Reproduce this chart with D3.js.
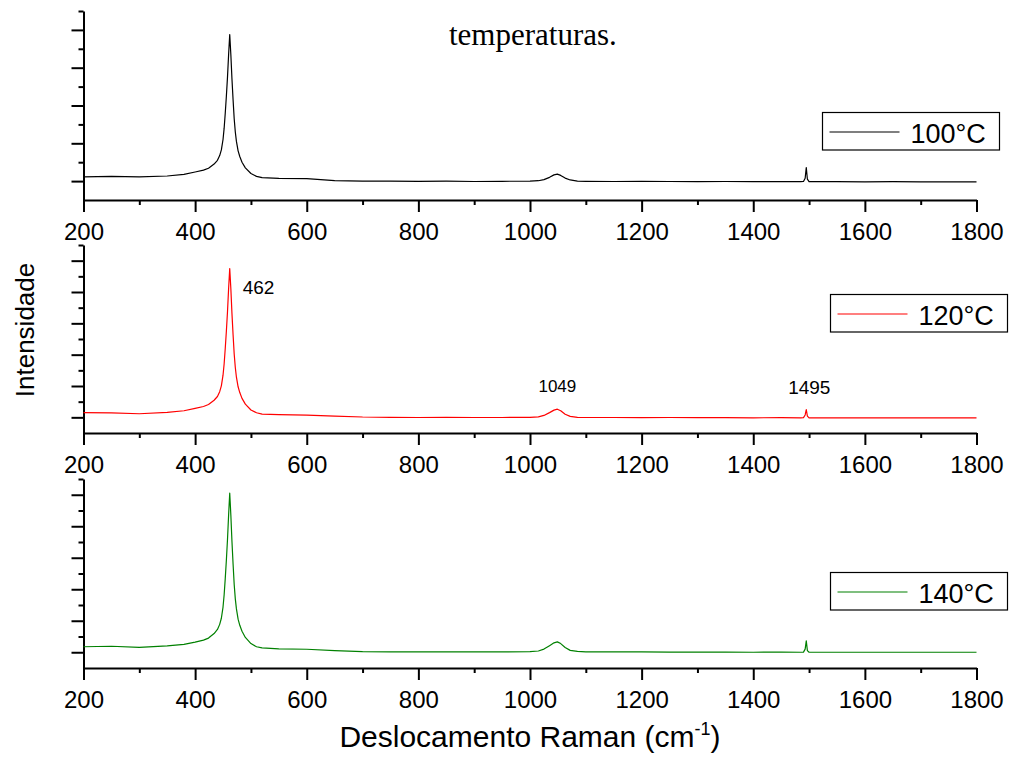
<!DOCTYPE html>
<html>
<head>
<meta charset="utf-8">
<script src="https://cdn.jsdelivr.net/npm/d3@7"></script>
<style>
  body { margin: 0; background: #fff; }
  svg { display: block; }
  text { font-family: "Liberation Sans", Arial, sans-serif; fill: #000; }
</style>
</head>
<body>
<svg id="chart" width="1011" height="765"></svg>
<script>
// Raman shift (cm-1) sampled along the spectra
const ramanShift = [200, 250, 300, 350, 380, 400,
  415, 424, 434, 440, 444, 447, 450, 452, 454, 456, 458, 460,
  462,
  464, 466, 468, 470, 472, 474, 477, 480, 484, 490, 500,
  510, 520, 550, 600, 650, 700, 750, 800, 850, 900, 950, 1000,
  1015, 1025, 1035, 1043, 1049, 1055, 1063, 1072, 1085, 1100,
  1150, 1200, 1250, 1300, 1350, 1400, 1450,
  1485, 1490, 1493, 1495, 1497, 1500, 1505,
  1550, 1600, 1650, 1700, 1750, 1800];

// intensities (arbitrary units)
const intensity100 = [1.22, 1.25, 1.22, 1.27, 1.36, 1.48,
  1.58, 1.68, 1.9, 2.1, 2.35, 2.65, 3.2, 3.8, 4.6, 5.5, 6.5, 7.7,
  8.75,
  7.7, 6.4, 5.3, 4.3, 3.6, 3.1, 2.6, 2.3, 2.0, 1.7, 1.4,
  1.25, 1.18, 1.14, 1.13, 1.02, 1.0, 1.0, 0.99, 1.0, 0.98, 0.99, 1.0,
  1.02, 1.08, 1.2, 1.33, 1.37, 1.3, 1.16, 1.06, 1.0, 0.99,
  0.98, 0.99, 0.98, 0.97, 0.98, 0.97, 0.97,
  0.97, 0.98, 1.15, 1.72, 1.1, 0.97, 0.97,
  0.97, 0.96, 0.97, 0.96, 0.96, 0.96];
const intensity120 = [1.3, 1.28, 1.23, 1.32, 1.42, 1.57,
  1.69, 1.82, 2.09, 2.33, 2.64, 3.01, 3.69, 4.42, 5.41, 6.51, 7.74, 9.22,
  10.5,
  9.22, 7.62, 6.27, 5.04, 4.18, 3.56, 2.95, 2.58, 2.21, 1.84, 1.47,
  1.29, 1.2, 1.17, 1.14, 1.08, 1.02, 1.0, 0.99, 1.0, 0.99, 0.99, 1.0,
  1.03, 1.12, 1.3, 1.46, 1.52, 1.42, 1.2, 1.06, 1.0, 0.99,
  0.99, 0.98, 0.99, 0.98, 0.98, 0.97, 0.98,
  0.97, 0.98, 1.15, 1.5, 1.08, 0.97, 0.97,
  0.97, 0.97, 0.96, 0.96, 0.96, 0.96];
const intensity140 = [1.35, 1.38, 1.31, 1.4, 1.5, 1.64,
  1.77, 1.9, 2.19, 2.45, 2.77, 3.16, 3.87, 4.65, 5.69, 6.86, 8.16, 9.72,
  11.1,
  9.72, 8.03, 6.6, 5.3, 4.39, 3.75, 3.1, 2.71, 2.33, 1.94, 1.55,
  1.35, 1.28, 1.22, 1.19, 1.1, 1.04, 1.03, 1.02, 1.03, 1.02, 1.02, 1.04,
  1.08, 1.2, 1.42, 1.6, 1.66, 1.55, 1.3, 1.12, 1.05, 1.03,
  1.02, 1.02, 1.01, 1.01, 1.01, 1.0, 1.01,
  1.0, 1.01, 1.2, 1.72, 1.1, 1.0, 1.0,
  1.0, 1.0, 1.0, 1.0, 1.0, 1.0];

const temperatures = ['100°C', '120°C', '140°C'];
const lineColors = ['#000000', '#ff0000', '#008000'];
const xTickValues = [200, 400, 600, 800, 1000, 1200, 1400, 1600, 1800];
const xMinorValues = [300, 500, 700, 900, 1100, 1300, 1500, 1700];
const peakLabels = [462, 1049, 1495];

const svg = d3.select('#chart');

const x = d3.scaleLinear().domain([200, 1800]).range([83.5, 976.5]);

const panels = [
  { data: intensity100, yMax: 10, top: 11, bottom: 200, legend: [822.5, 112.5] },
  { data: intensity120, yMax: 12, top: 245, bottom: 433, legend: [830.5, 294.5] },
  { data: intensity140, yMax: 12, top: 479, bottom: 668, legend: [830.5, 572.5] }
];

panels.forEach((p, i) => {
  const y = d3.scaleLinear().domain([0, p.yMax]).range([p.bottom, p.top]);
  p.y = y;
  const g = svg.append('g');

  // y axis: long ticks on odd, short on even
  const yMajor = d3.range(1, p.yMax + 1, 2);
  const yMinor = d3.range(2, p.yMax + 1, 2);
  g.append('g')
    .attr('transform', `translate(${x.range()[0]},0)`)
    .call(d3.axisLeft(y).tickValues(yMinor).tickSize(5).tickSizeOuter(0).tickFormat(''));
  g.append('g')
    .attr('transform', `translate(${x.range()[0]},0)`)
    .call(d3.axisLeft(y).tickValues(yMajor).tickSize(12).tickSizeOuter(0).tickFormat(''))
    .select('.domain').remove();

  // x axis
  g.append('g')
    .attr('transform', `translate(0,${p.bottom})`)
    .call(d3.axisBottom(x).tickValues(xMinorValues).tickSize(5).tickSizeOuter(0).tickFormat(''));
  g.append('g')
    .attr('transform', `translate(0,${p.bottom})`)
    .call(d3.axisBottom(x).tickValues(xTickValues).tickSize(12).tickSizeOuter(0).tickFormat(d3.format('d')))
    .call(a => a.select('.domain').remove())
    .selectAll('text')
      .attr('dy', null)
      .attr('y', 40)
      .style('font-size', '24px')
      .style('font-family', '"Liberation Sans", Arial, sans-serif');

  g.selectAll('.domain, .tick line')
    .attr('stroke', '#000')
    .attr('stroke-width', 2);

  const line = d3.line()
    .x((d, k) => x(ramanShift[k]))
    .y(d => y(d));
  g.append('path')
    .datum(p.data)
    .attr('fill', 'none')
    .attr('stroke', lineColors[i])
    .attr('stroke-width', 1.2)
    .attr('stroke-linejoin', 'round')
    .attr('d', line);

  // legend box
  const [lx, ly] = p.legend;
  const lg = svg.append('g').attr('transform', `translate(${lx},${ly})`);
  lg.append('rect')
    .attr('width', 177).attr('height', 37.5)
    .attr('fill', '#fff').attr('stroke', '#000').attr('stroke-width', 1.2);
  lg.append('line')
    .attr('x1', 7).attr('x2', 77).attr('y1', 19.5).attr('y2', 19.5)
    .attr('stroke', lineColors[i]).attr('stroke-width', 1.2);
  lg.append('text')
    .attr('x', 88).attr('y', 30.5)
    .style('font-size', '27px')
    .text(temperatures[i]);
});

// peak labels on the 120°C spectrum
const mid = panels[1];
const peakAt = v => mid.data[ramanShift.indexOf(v)];
svg.append('text')
  .attr('x', x(peakLabels[0]) + 13)
  .attr('y', mid.y(peakAt(peakLabels[0])) + 25)
  .style('font-size', '19px')
  .text(peakLabels[0]);
svg.append('text')
  .attr('x', x(peakLabels[1]))
  .attr('y', mid.y(peakAt(peakLabels[1])) - 17)
  .attr('text-anchor', 'middle')
  .style('font-size', '17px')
  .text(peakLabels[1]);
svg.append('text')
  .attr('x', x(peakLabels[2]) + 3)
  .attr('y', mid.y(peakAt(peakLabels[2])) - 16)
  .attr('text-anchor', 'middle')
  .style('font-size', '19px')
  .text(peakLabels[2]);

// stray caption text from the source document
svg.append('text')
  .attr('x', 449).attr('y', 45)
  .style('font-family', '"Liberation Serif", "Times New Roman", serif')
  .style('font-size', '31px')
  .text('temperaturas.');

// axis titles
const xt = svg.append('text')
  .attr('x', (x.range()[0] + x.range()[1]) / 2)
  .attr('y', 747)
  .attr('text-anchor', 'middle')
  .style('font-size', '30px');
xt.append('tspan').text('Deslocamento Raman (cm');
xt.append('tspan').attr('dy', -12).style('font-size', '18px').text('-1');
xt.append('tspan').attr('dy', 12).text(')');

svg.append('text')
  .attr('transform', 'translate(34,330) rotate(-90)')
  .attr('text-anchor', 'middle')
  .style('font-size', '26px')
  .text('Intensidade');
</script>
</body>
</html>
